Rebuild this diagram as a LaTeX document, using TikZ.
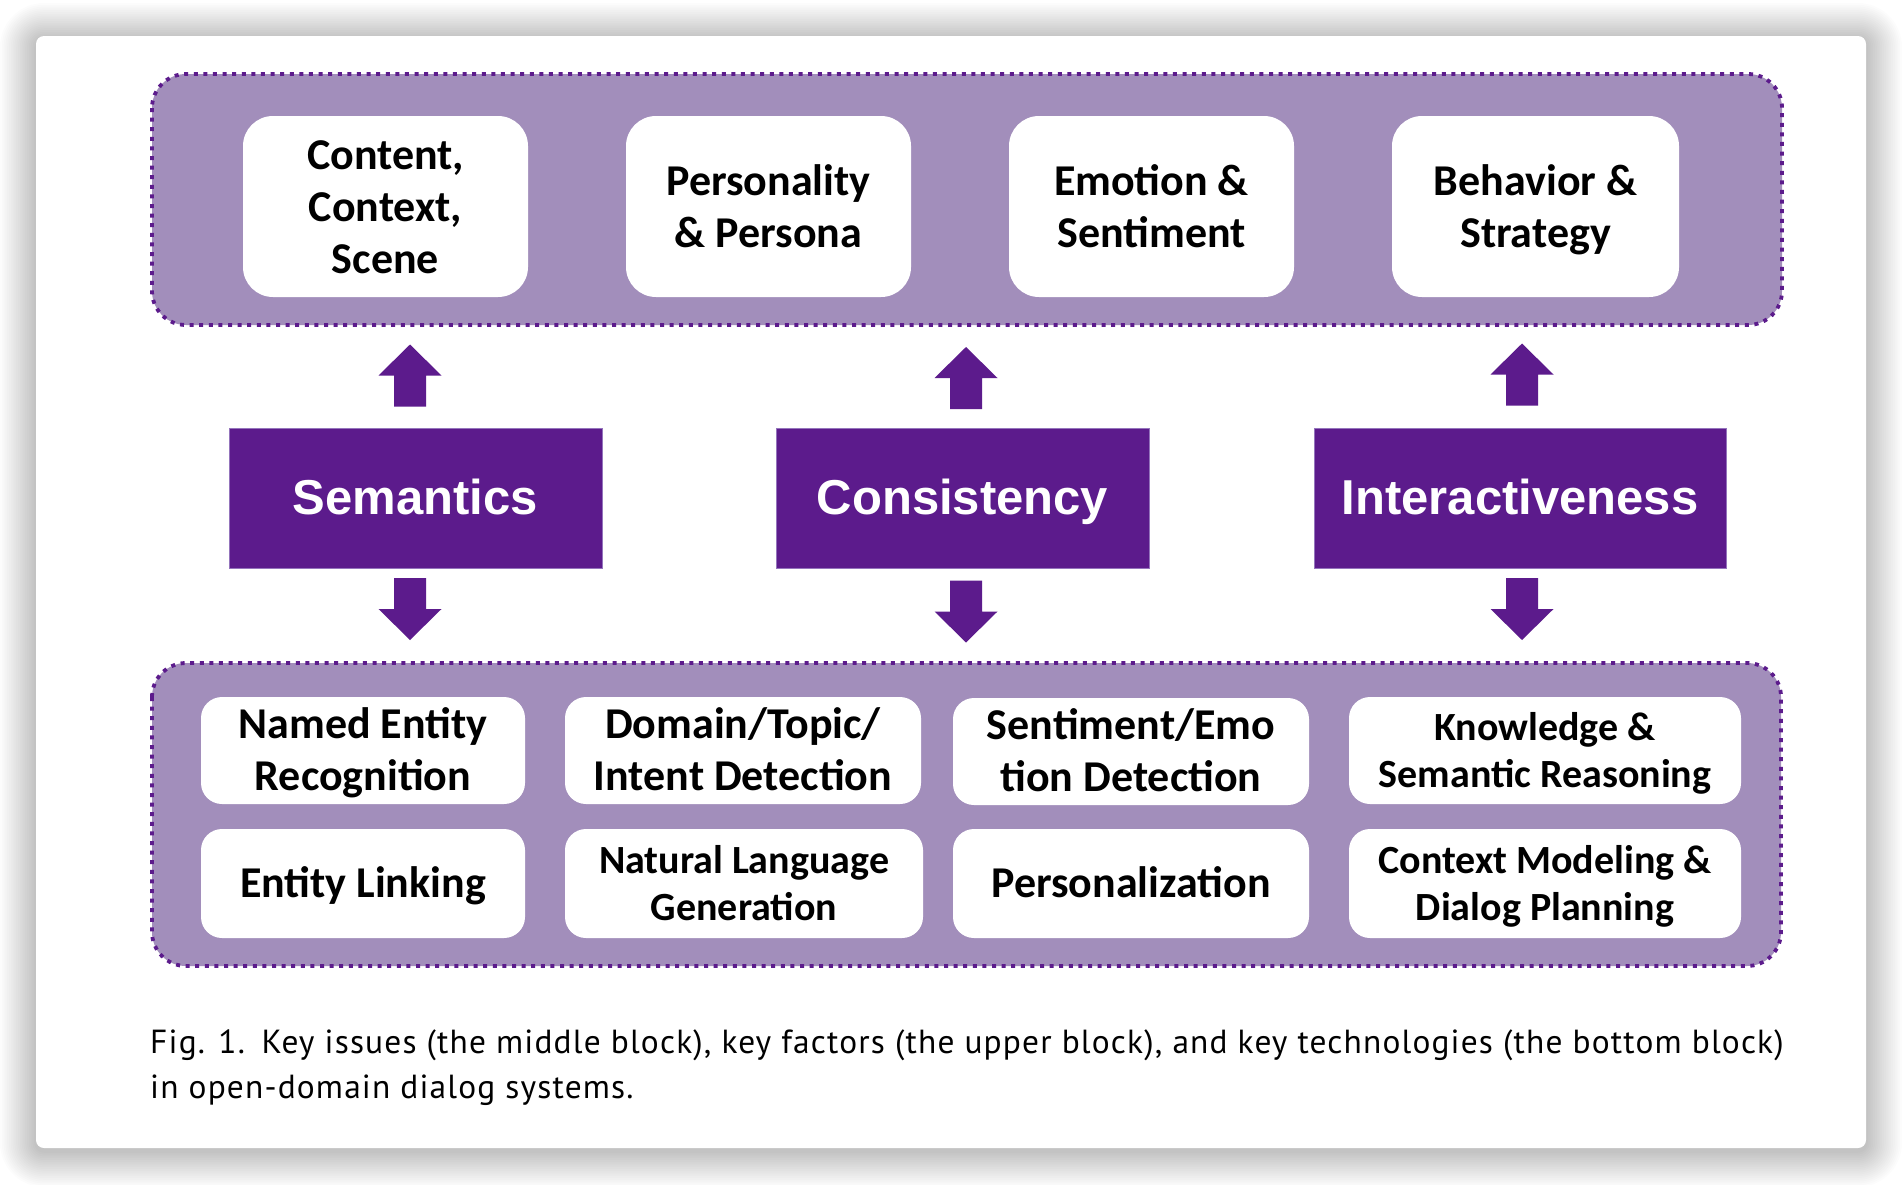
\documentclass[tikz,border=0pt]{standalone}
\usepackage{fontspec}
\setmainfont{PT Sans}
\newfontfamily\capfont{PT Sans}[LetterSpace=3.5]
\newfontfamily\calfont{Carlito}
\newfontfamily\arfont{Liberation Sans}
\definecolor{dpurple}{HTML}{5C1B8C}
\definecolor{lpurple}{HTML}{A28EBB}
\definecolor{bpurple}{HTML}{9474BC}
\tikzset{
  blockbg/.style={fill=lpurple, draw=dpurple, line width=3.8pt, dash pattern=on 4pt off 5.6pt, rounded corners=34pt},
  topbox/.style={fill=white, rounded corners=30pt, inner sep=0pt, minimum width=285pt, minimum height=181pt, align=center, text height=86pt, text depth=4pt, font=\calfont\bfseries\fontsize{44}{52}\selectfont},
  threelines/.style={text height=138pt},
  botbox/.style={fill=white, rounded corners=21pt, inner sep=0pt, align=center, text height=86pt, text depth=6pt, font=\calfont\bfseries\fontsize{44}{52}\selectfont},
  oneline/.style={text height=34pt},
  smallbot/.style={text height=78pt, text depth=5pt, font=\calfont\bfseries\fontsize{40}{47}\selectfont},
  issuebox/.style={fill=dpurple, draw=bpurple, line width=1pt, inner sep=0pt, minimum height=140pt, text height=36pt, text depth=3pt, text=white, font=\arfont\bfseries\fontsize{49}{56}\selectfont},
  captext/.style={inner sep=0pt, anchor=base west, font=\capfont\fontsize{33.4}{38}\selectfont},
  uparr/.pic={\fill[dpurple] (-16,31) -- (-16,0) -- (-31.5,0) -- (0,-31) -- (31.5,0) -- (16,0) -- (16,31) -- cycle;},
  downarr/.pic={\fill[dpurple] (-16,-31) -- (-16,0) -- (-31.5,0) -- (0,31) -- (31.5,0) -- (16,0) -- (16,-31) -- cycle;}
}
\begin{document}
\begin{tikzpicture}[x=1pt,y=-1pt]
\useasboundingbox (0,0) rectangle (1902,1184);
\fill[white] (0,0) rectangle (1902,1184);
% shadow of the card
\foreach \i in {1,...,20}{
  \pgfmathsetmacro\d{\i*1.8}
  \pgfmathsetmacro\r{\d+8}
  \fill[black,opacity=0.012,rounded corners=\r pt] ({36-\d},{36-\d+3}) rectangle ({1866+\d},{1148+\d+3});
}
\fill[white,rounded corners=8pt] (36,36) rectangle (1866,1148);

% upper block
\path[blockbg] (152,74) rectangle (1782,325);
\node[topbox, threelines] (t1) at (385.5,206.5) {Content,\\Context,\\Scene};
\node[topbox] (t2) at (768.5,206.5) {Personality\\\& Persona};
\node[topbox] (t3) at (1151.5,206.5) {Emotion \&\\Sentiment};
\node[topbox, minimum width=287pt] (t4) at (1535.5,206.5) {Behavior \&\\Strategy};

% middle block
\node[issuebox, minimum width=373pt] (m1) at (415.5,498) {Semantics};
\node[issuebox, minimum width=373pt] (m2) at (962.5,498) {Consistency};
\node[issuebox, minimum width=412pt] (m3) at (1520,498) {Interactiveness};

% arrows
\pic at (410,375.5) {uparr};
\pic at (966,378) {uparr};
\pic at (1522,374.5) {uparr};
\pic at (410,609) {downarr};
\pic at (966,611.5) {downarr};
\pic at (1522,609) {downarr};

% bottom block
\path[blockbg] (152,663) rectangle (1781,966);
\node[botbox, minimum width=324pt, minimum height=107pt] (b11) at (363,750.5) {Named Entity\\Recognition};
\node[botbox, minimum width=356pt, minimum height=107pt] (b12) at (743,750.5) {Domain/Topic/\\Intent Detection};
\node[botbox, minimum width=356pt, minimum height=107pt] (b13) at (1131,751.5) {Sentiment/Emo\\tion Detection};
\node[botbox, smallbot, minimum width=392pt, minimum height=107pt] (b14) at (1545,750.5) {Knowledge \&\\Semantic Reasoning};
\node[botbox, oneline, minimum width=324pt, minimum height=109pt] (b21) at (363,883.5) {Entity Linking};
\node[botbox, smallbot, minimum width=358pt, minimum height=109pt] (b22) at (744,883.5) {Natural Language\\Generation};
\node[botbox, oneline, minimum width=356pt, minimum height=109pt] (b23) at (1131,883.5) {Personalization};
\node[botbox, smallbot, minimum width=392pt, minimum height=109pt] (b24) at (1545,883.5) {Context Modeling \&\\Dialog Planning};

% caption
\node[captext] (cap1) at (150,1053) {Fig. 1.\enspace Key issues (the middle block), key factors (the upper block), and key technologies (the bottom block)};
\node[captext] (cap2) at (150,1098) {in open-domain dialog systems.};
\end{tikzpicture}
\end{document}
